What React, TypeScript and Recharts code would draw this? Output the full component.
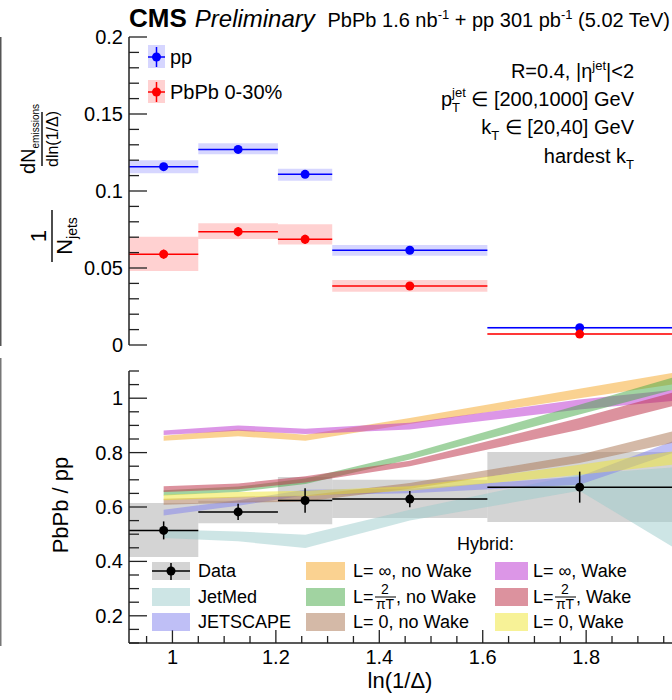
import React from 'react';
import { ComposedChart, XAxis, YAxis, Scatter, ErrorBar, Area, ReferenceArea } from 'recharts';

const FONT = '"Liberation Sans", Arial, Helvetica, sans-serif';

// ln(1/Δ) binning
const binLow = [0.916, 1.05, 1.204, 1.309, 1.609];
const binHigh = [1.05, 1.204, 1.309, 1.609, 1.966];

// tick labels
const xTicks = [1, 1.2, 1.4, 1.6, 1.8];
const distTicks = [0, 0.05, 0.1, 0.15, 0.2];
const ratioTicks = [0.2, 0.4, 0.6, 0.8, 1];

// per-jet emission density, pp
const ppValue = [0.1158, 0.127, 0.1108, 0.0615, 0.0112];
const ppStat = [0.0012, 0.0012, 0.0012, 0.0008, 0.0004];
const ppSystLo = [0.1115, 0.1238, 0.1067, 0.058, 0.0105];
const ppSystHi = [0.12, 0.131, 0.1145, 0.065, 0.0119];

// per-jet emission density, PbPb 0-30%
const pbpbValue = [0.059, 0.0736, 0.0686, 0.0383, 0.0071];
const pbpbStat = [0.003, 0.003, 0.003, 0.0012, 0.0006];
const pbpbSystLo = [0.048, 0.0688, 0.0653, 0.0346, 0.0066];
const pbpbSystHi = [0.0703, 0.079, 0.0784, 0.0422, 0.0076];

// PbPb / pp
const ratioValue = [0.514, 0.582, 0.624, 0.629, 0.673];
const ratioStat = [0.033, 0.03, 0.045, 0.03, 0.057];
const ratioSystLo = [0.416, 0.54, 0.537, 0.56, 0.545];
const ratioSystHi = [0.615, 0.623, 0.71, 0.7, 0.802];

// model bands: evaluated at the bin centres and at the last bin edge
const modelX = [0.983, 1.127, 1.257, 1.459, 1.787, 1.966];
const jetMedLo = [0.486, 0.474, 0.449, 0.55, 0.66, 0.455];
const jetMedHi = [0.517, 0.51, 0.498, 0.59, 0.72, 0.745];
const jetscapeLo = [0.569, 0.605, 0.643, 0.651, 0.682, 0.798];
const jetscapeHi = [0.59, 0.625, 0.663, 0.667, 0.712, 0.841];
const infNoWakeLo = [0.844, 0.86, 0.844, 0.905, 1.0, 1.05];
const infNoWakeHi = [0.862, 0.885, 0.866, 0.927, 1.035, 1.093];
const infWakeLo = [0.865, 0.88, 0.868, 0.885, 0.958, 0.99];
const infWakeHi = [0.881, 0.9, 0.888, 0.91, 0.995, 1.03];
const resNoWakeLo = [0.642, 0.655, 0.685, 0.775, 0.94, 1.03];
const resNoWakeHi = [0.662, 0.675, 0.705, 0.797, 0.976, 1.075];
const resWakeLo = [0.655, 0.665, 0.69, 0.75, 0.884, 0.97];
const resWakeHi = [0.676, 0.686, 0.713, 0.77, 0.927, 1.02];
const zeroNoWakeLo = [0.608, 0.616, 0.62, 0.667, 0.762, 0.835];
const zeroNoWakeHi = [0.63, 0.638, 0.642, 0.688, 0.792, 0.878];
const zeroWakeLo = [0.625, 0.635, 0.64, 0.66, 0.719, 0.755];
const zeroWakeHi = [0.645, 0.655, 0.66, 0.676, 0.755, 0.804];

type Model = { lo: number[]; hi: number[]; color: string; opacity: number };

const jetMed: Model = { lo: jetMedLo, hi: jetMedHi, color: '#9ccccc', opacity: 0.5 };
const jetscape: Model = { lo: jetscapeLo, hi: jetscapeHi, color: '#7f7fee', opacity: 0.5 };
const infNoWake: Model = { lo: infNoWakeLo, hi: infNoWakeHi, color: '#f5a623', opacity: 0.5 };
const infWake: Model = { lo: infWakeLo, hi: infWakeHi, color: '#b92dd0', opacity: 0.5 };
const resNoWake: Model = { lo: resNoWakeLo, hi: resNoWakeHi, color: '#43a843', opacity: 0.5 };
const resWake: Model = { lo: resWakeLo, hi: resWakeHi, color: '#c0394f', opacity: 0.55 };
const zeroNoWake: Model = { lo: zeroNoWakeLo, hi: zeroNoWakeHi, color: '#a9744f', opacity: 0.5 };
const zeroWake: Model = { lo: zeroWakeLo, hi: zeroWakeHi, color: '#f0e630', opacity: 0.5 };

const models = [jetMed, jetscape, infNoWake, infWake, resNoWake, resWake, zeroNoWake, zeroWake];

const X_DOMAIN: [number, number] = [0.916, 1.966];

const steps = (lo: number, hi: number, step: number) => {
  const out: number[] = [];
  for (let k = Math.ceil(lo / step - 1e-9); k * step <= hi + 1e-9; k++) out.push(+(k * step).toFixed(4));
  return out;
};

const xAll = steps(0.95, 1.95, 0.05);
const distAll = steps(0, 0.2, 0.01);
const ratioAll = steps(0.1, 1.1, 0.05);

const points = (v: number[], stat: number[]) =>
  v.map((y, i) => ({
    x: (binLow[i] + binHigh[i]) / 2,
    y,
    ex: (binHigh[i] - binLow[i]) / 2,
    ey: stat[i],
  }));

const bandData = (m: Model) => modelX.map((x, i) => ({ x, band: [m.lo[i], m.hi[i]] }));

type Side = 'left' | 'right' | 'top' | 'bottom';

// ROOT-style inward ticks, longer on the labelled values
const tickRenderer =
  (side: Side, majors: number[], majorLen: number, minorLen: number, labels: boolean) => (props: any) => {
    const { x, y, payload } = props;
    const v = payload.value as number;
    const major = majors.some((m) => Math.abs(m - v) < 1e-6);
    const len = major ? majorLen : minorLen;
    const dx = side === 'left' ? len : side === 'right' ? -len : 0;
    const dy = side === 'top' ? len : side === 'bottom' ? -len : 0;
    return (
      <g>
        <line x1={x} y1={y} x2={x + dx} y2={y + dy} stroke="#222" strokeWidth={1.3} />
        {labels && major && side === 'left' && (
          <text x={x - 6} y={y + 7} textAnchor="end" fontSize={20} fontFamily={FONT} fill="#000">
            {v}
          </text>
        )}
        {labels && major && side === 'bottom' && (
          <text x={x} y={y + 21} textAnchor="middle" fontSize={20} fontFamily={FONT} fill="#000">
            {v}
          </text>
        )}
      </g>
    );
  };

const frame = { stroke: '#222', strokeWidth: 1.5 };

const dot = (color: string) => (p: any) => <circle cx={p.cx} cy={p.cy} r={4.5} fill={color} />;

function axes(yDomain: [number, number], yAll: number[], yMajor: number[], xLabels: boolean, xHeight: number) {
  return [
    <XAxis
      key="xb"
      xAxisId="x"
      type="number"
      dataKey="x"
      domain={X_DOMAIN}
      allowDataOverflow
      ticks={xAll}
      interval={0}
      height={xHeight}
      tickSize={0}
      tickMargin={0}
      tickLine={false}
      axisLine={frame}
      tick={tickRenderer('bottom', xTicks, 13, 7, xLabels)}
    />,
    <XAxis
      key="xt"
      xAxisId="xt"
      orientation="top"
      type="number"
      domain={X_DOMAIN}
      allowDataOverflow
      ticks={xAll}
      interval={0}
      height={0}
      tickSize={0}
      tickMargin={0}
      tickLine={false}
      axisLine={frame}
      tick={tickRenderer('top', xTicks, 9, 5, false)}
    />,
    <YAxis
      key="yl"
      yAxisId="y"
      type="number"
      dataKey="y"
      domain={yDomain}
      allowDataOverflow
      ticks={yAll}
      interval={0}
      width={129}
      tickSize={0}
      tickMargin={0}
      tickLine={false}
      axisLine={frame}
      tick={tickRenderer('left', yMajor, 18, 10, true)}
    />,
    <YAxis
      key="yr"
      yAxisId="yr"
      orientation="right"
      type="number"
      domain={yDomain}
      allowDataOverflow
      ticks={yAll}
      interval={0}
      width={0}
      tickSize={0}
      tickMargin={0}
      tickLine={false}
      axisLine={false}
      tick={tickRenderer('right', yMajor, 18, 10, false)}
    />,
  ];
}

function DistributionPanel() {
  return (
    <ComposedChart width={672} height={360} margin={{ top: 37, right: 0, bottom: 15, left: 0 }}>
      {axes([0, 0.2], distAll, distTicks, false, 0)}
      {binLow.map((lo, i) => (
        <ReferenceArea
          key={`pps${i}`}
          xAxisId="x"
          yAxisId="y"
          x1={lo}
          x2={binHigh[i]}
          y1={ppSystLo[i]}
          y2={ppSystHi[i]}
          fill="#0000ff"
          fillOpacity={0.16}
          stroke="none"
          ifOverflow="visible"
        />
      ))}
      {binLow.map((lo, i) => (
        <ReferenceArea
          key={`aas${i}`}
          xAxisId="x"
          yAxisId="y"
          x1={lo}
          x2={binHigh[i]}
          y1={pbpbSystLo[i]}
          y2={pbpbSystHi[i]}
          fill="#ff0000"
          fillOpacity={0.18}
          stroke="none"
          ifOverflow="visible"
        />
      ))}
      <Scatter xAxisId="x" yAxisId="y" data={points(ppValue, ppStat)} fill="#0000ff" shape={dot('#0000ff')} isAnimationActive={false}>
        <ErrorBar dataKey="ex" direction="x" width={0} stroke="#0000ff" strokeWidth={1.5} isAnimationActive={false} />
        <ErrorBar dataKey="ey" direction="y" width={0} stroke="#0000ff" strokeWidth={1.5} isAnimationActive={false} />
      </Scatter>
      <Scatter xAxisId="x" yAxisId="y" data={points(pbpbValue, pbpbStat)} fill="#ff0000" shape={dot('#ff0000')} isAnimationActive={false}>
        <ErrorBar dataKey="ex" direction="x" width={0} stroke="#ff0000" strokeWidth={1.5} isAnimationActive={false} />
        <ErrorBar dataKey="ey" direction="y" width={0} stroke="#ff0000" strokeWidth={1.5} isAnimationActive={false} />
      </Scatter>
    </ComposedChart>
  );
}

function RatioPanel() {
  return (
    <ComposedChart width={672} height={340} margin={{ top: 11, right: 0, bottom: 0, left: 0 }}>
      {axes([0.1, 1.1], ratioAll, ratioTicks, true, 57)}
      {binLow.map((lo, i) => (
        <ReferenceArea
          key={`rs${i}`}
          xAxisId="x"
          yAxisId="y"
          x1={lo}
          x2={binHigh[i]}
          y1={ratioSystLo[i]}
          y2={ratioSystHi[i]}
          fill="#aaaaaa"
          fillOpacity={0.5}
          stroke="none"
          ifOverflow="visible"
        />
      ))}
      <Scatter xAxisId="x" yAxisId="y" data={points(ratioValue, ratioStat)} fill="#000" shape={dot('#000')} isAnimationActive={false}>
        <ErrorBar dataKey="ex" direction="x" width={0} stroke="#000" strokeWidth={1.5} isAnimationActive={false} />
        <ErrorBar dataKey="ey" direction="y" width={0} stroke="#000" strokeWidth={1.5} isAnimationActive={false} />
      </Scatter>
      {models.map((m, i) => (
        <Area
          key={`m${i}`}
          xAxisId="x"
          yAxisId="y"
          data={bandData(m)}
          dataKey="band"
          type="linear"
          stroke="none"
          fill={m.color}
          fillOpacity={m.opacity}
          dot={false}
          activeDot={false}
          isAnimationActive={false}
        />
      ))}
    </ComposedChart>
  );
}

// L value of a hybrid entry: '∞', '0' or the 2/πT fraction
function HybridLabel({ x, y, L, wake }: { x: number; y: number; L: string; wake: boolean }) {
  const tail = wake ? ', Wake' : ', no Wake';
  if (L !== 'frac') {
    return (
      <text x={x} y={y} fontSize={18}>
        {`L= ${L}${tail}`}
      </text>
    );
  }
  return (
    <g>
      <text x={x} y={y} fontSize={18}>
        L=
      </text>
      <text x={x + 32} y={y - 9} fontSize={14} textAnchor="middle">
        2
      </text>
      <line x1={x + 22} x2={x + 43} y1={y - 6} y2={y - 6} stroke="#000" strokeWidth={1} />
      <text x={x + 32} y={y + 6} fontSize={14} textAnchor="middle">
        πT
      </text>
      <text x={x + 43} y={y} fontSize={18}>
        {tail}
      </text>
    </g>
  );
}

const legendRows = [571, 597, 622];

function Overlay() {
  return (
    <svg width={672} height={700} style={{ position: 'absolute', left: 0, top: 0, pointerEvents: 'none' }} fontFamily={FONT} fill="#000">
      <rect x={0} y={37} width={1.5} height={309} fill="#555" />
      <rect x={0} y={358} width={1.5} height={288} fill="#777" />

      <text x={129} y={27}>
        <tspan fontWeight="bold" fontSize={26}>CMS</tspan>
        <tspan fontStyle="italic" fontSize={24} dx={8}>Preliminary</tspan>
      </text>
      <text x={670} y={27} fontSize={20} textAnchor="end">
        PbPb 1.6 nb<tspan dy={-8} fontSize={13}>-1</tspan>
        <tspan dy={8}> + pp 301 pb</tspan>
        <tspan dy={-8} fontSize={13}>-1</tspan>
        <tspan dy={8}> (5.02 TeV)</tspan>
      </text>

      {/* top-panel legend */}
      <rect x={148} y={45} width={17} height={23} fill="#0000ff" fillOpacity={0.16} />
      <line x1={156.5} x2={156.5} y1={47} y2={67} stroke="#0000ff" strokeWidth={1.5} />
      <line x1={148} x2={165} y1={57} y2={57} stroke="#0000ff" strokeWidth={1.5} />
      <circle cx={156.5} cy={57} r={4.5} fill="#0000ff" />
      <text x={170} y={64} fontSize={20}>pp</text>
      <rect x={148} y={80} width={17} height={23} fill="#ff0000" fillOpacity={0.18} />
      <line x1={156.5} x2={156.5} y1={82} y2={102} stroke="#ff0000" strokeWidth={1.5} />
      <line x1={148} x2={165} y1={92} y2={92} stroke="#ff0000" strokeWidth={1.5} />
      <circle cx={156.5} cy={92} r={4.5} fill="#ff0000" />
      <text x={170} y={99} fontSize={20}>PbPb 0-30%</text>

      <g fontSize={20} textAnchor="end">
        <text x={634} y={78}>
          R=0.4, |η<tspan dy={-8} fontSize={13}>jet</tspan>
          <tspan dy={8}>|&lt;2</tspan>
        </text>
        <text x={634} y={106}>
          p<tspan dy={6} fontSize={13}>T</tspan>
          <tspan dx={-8} dy={-15} fontSize={13}>jet</tspan>
          <tspan dy={9}> ∈ [200,1000] GeV</tspan>
        </text>
        <text x={634} y={134}>
          k<tspan dy={6} fontSize={13}>T</tspan>
          <tspan dy={-6}> ∈ [20,40] GeV</tspan>
        </text>
        <text x={634} y={163}>
          hardest k<tspan dy={6} fontSize={13}>T</tspan>
        </text>
      </g>

      {/* axis titles */}
      <g transform="translate(42,139) rotate(-90)" textAnchor="middle">
        <text x={0} y={-7} fontSize={20}>
          dN<tspan fontSize={10} dy={4}>emissions</tspan>
        </text>
        <line x1={-27} x2={27} y1={0} y2={0} stroke="#000" strokeWidth={1.4} />
        <text x={0} y={16} fontSize={16}>dln(1/Δ)</text>
      </g>
      <g transform="translate(52,236) rotate(-90)" textAnchor="middle">
        <text x={0} y={-6} fontSize={22}>1</text>
        <line x1={-26} x2={26} y1={0} y2={0} stroke="#000" strokeWidth={1.4} />
        <text x={0} y={20} fontSize={22}>
          N<tspan fontSize={14} dy={5}>jets</tspan>
        </text>
      </g>
      <text transform="translate(68,505) rotate(-90)" textAnchor="middle" fontSize={22}>
        PbPb / pp
      </text>
      <text x={400} y={688} textAnchor="middle" fontSize={22}>
        ln(1/Δ)
      </text>

      {/* ratio-panel legend */}
      <rect x={152} y={562} width={38} height={18} fill="#aaaaaa" fillOpacity={0.5} />
      <line x1={152} x2={190} y1={571} y2={571} stroke="#000" strokeWidth={1.5} />
      <line x1={171} x2={171} y1={563} y2={580} stroke="#000" strokeWidth={1.5} />
      <circle cx={171} cy={571} r={4.5} fill="#000" />
      <text x={198} y={577} fontSize={18}>Data</text>
      <rect x={152} y={588} width={38} height={18} fill={jetMed.color} fillOpacity={jetMed.opacity} />
      <text x={198} y={603} fontSize={18}>JetMed</text>
      <rect x={152} y={613} width={38} height={18} fill={jetscape.color} fillOpacity={jetscape.opacity} />
      <text x={198} y={628} fontSize={18}>JETSCAPE</text>

      <text x={457} y={550} fontSize={18}>Hybrid:</text>
      {[infNoWake, resNoWake, zeroNoWake].map((m, i) => (
        <rect key={`c2${i}`} x={306} y={legendRows[i] - 9} width={39} height={18} fill={m.color} fillOpacity={m.opacity} />
      ))}
      {[infWake, resWake, zeroWake].map((m, i) => (
        <rect key={`c3${i}`} x={495} y={legendRows[i] - 9} width={33} height={18} fill={m.color} fillOpacity={m.opacity} />
      ))}
      {['∞', 'frac', '0'].map((L, i) => (
        <HybridLabel key={`l2${i}`} x={353} y={legendRows[i] + 6} L={L} wake={false} />
      ))}
      {['∞', 'frac', '0'].map((L, i) => (
        <HybridLabel key={`l3${i}`} x={533} y={legendRows[i] + 6} L={L} wake={true} />
      ))}
    </svg>
  );
}

export default function App() {
  return (
    <div style={{ position: 'absolute', left: 0, top: 0, width: 672, height: 700, background: '#fff', overflow: 'hidden' }}>
      <div style={{ position: 'absolute', left: 0, top: 0 }}>
        <DistributionPanel />
      </div>
      <div style={{ position: 'absolute', left: 0, top: 360 }}>
        <RatioPanel />
      </div>
      <Overlay />
    </div>
  );
}
